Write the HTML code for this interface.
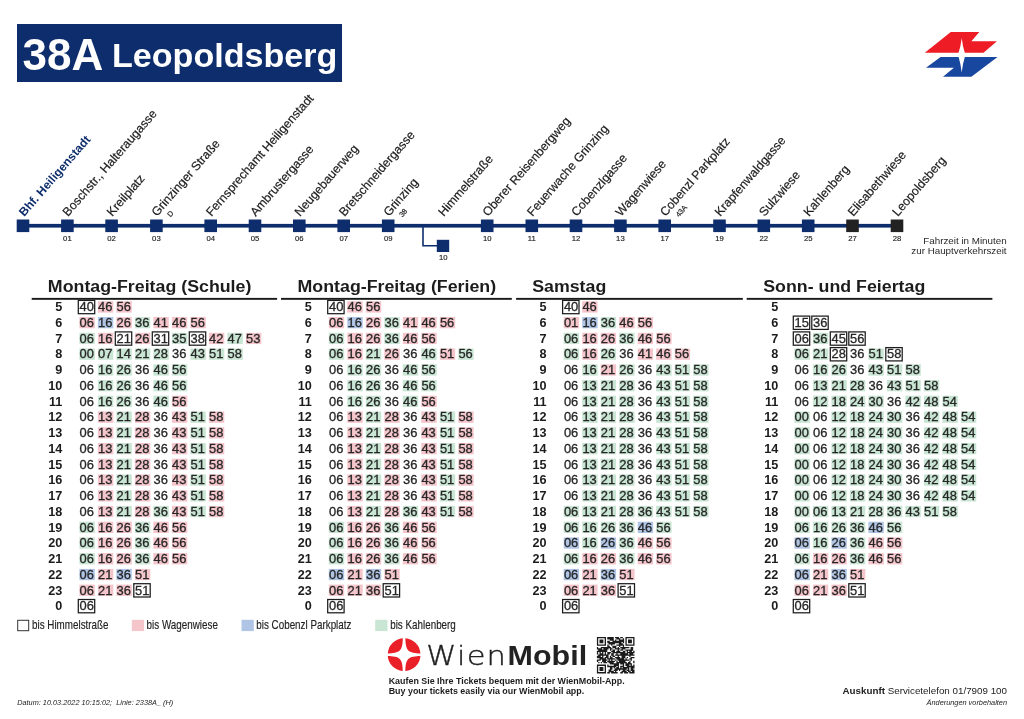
<!DOCTYPE html>
<html lang="de"><head><meta charset="utf-8"><title>38A Leopoldsberg</title>
<style>
html,body{margin:0;padding:0;background:#fff;}
body{width:1024px;height:719px;overflow:hidden;position:relative;font-family:"Liberation Sans",sans-serif;}
svg{position:absolute;left:0;top:0;display:block;}
text{font-family:"Liberation Sans",sans-serif;fill:#333333;}
.b{font-weight:bold;}
.i{font-style:italic;}
.hd{font-weight:bold;font-size:16.7px;fill:#1c1c1c;}
.hr{font-weight:bold;font-size:12px;fill:#1c1c1c;text-anchor:end;}
.m{font-size:12.9px;fill:#262626;stroke:#262626;stroke-width:0.3px;word-spacing:0.57px;}
.st{font-size:12.25px;fill:#1c1c1c;stroke:#1c1c1c;stroke-width:0.2px;}
.tm{font-size:7.7px;fill:#222;stroke:#222;stroke-width:0.15px;text-anchor:middle;}
.sub{font-size:7.4px;fill:#222;stroke:#222;stroke-width:0.2px;}
.lg{font-size:12px;fill:#222;stroke:#222;stroke-width:0.15px;}
</style></head><body>
<svg width="1024" height="719" viewBox="0 0 1024 719">
<rect x="17" y="24" width="325" height="58" fill="#0e2d6d"/>
<text x="22.5" y="69.6" class="b" style="font-size:44px;fill:#fff">38A</text>
<text x="112" y="66.6" class="b" style="font-size:34.1px;fill:#fff">Leopoldsberg</text>
<polygon points="950.8,32.1 979.3,32.1 971.4,41.2 996.9,41.2 983.5,52.7 924.8,52.7" fill="#ee1c25"/>
<polygon points="940.6,56.9 997.5,56.9 971.4,76.7 943,76.7 953.9,67.8 926,67.8" fill="#17479e"/>
<path d="M961.7 37.9 Q962.7 46.5 964.8 52.7 L970.5 54.8 L964.8 56.9 Q962.7 63.5 961.7 72.4 Q960.7 63.5 958.6 56.9 L953 54.8 L958.6 52.7 Q960.7 46.5 961.7 37.9Z" fill="#fff"/>
<rect x="23" y="223.9" width="874" height="3.7" fill="#0e2d6d"/>
<path d="M423 227 V245.8 H438" fill="none" stroke="#0e2d6d" stroke-width="1.6"/>
<rect x="436.8" y="239.8" width="12.4" height="12.2" fill="#0e2d6d"/>
<text x="443.2" y="260.4" class="tm">10</text>
<rect x="16.7" y="219.5" width="12.6" height="12.6" fill="#0e2d6d"/>
<text transform="translate(24.2 217.0) rotate(-49)" class="st b" style="fill:#0e2d6d;stroke:none;font-size:12px">Bhf. Heiligenstadt</text>
<rect x="61.1" y="219.5" width="12.6" height="12.6" fill="#0e2d6d"/>
<text x="67.4" y="240.5" class="tm">01</text>
<text transform="translate(68.1 217.0) rotate(-49)" class="st">Boschstr., Halteraugasse</text>
<rect x="105.3" y="219.5" width="12.6" height="12.6" fill="#0e2d6d"/>
<text x="111.6" y="240.5" class="tm">02</text>
<text transform="translate(112.3 217.0) rotate(-49)" class="st">Kreilplatz</text>
<rect x="150.1" y="219.5" width="12.6" height="12.6" fill="#0e2d6d"/>
<text x="156.4" y="240.5" class="tm">03</text>
<text transform="translate(157.1 217.0) rotate(-49)" class="st">Grinzinger Straße</text>
<text transform="translate(170.6 217.6) rotate(-49)" class="sub">D</text>
<rect x="204.4" y="219.5" width="12.6" height="12.6" fill="#0e2d6d"/>
<text x="210.7" y="240.5" class="tm">04</text>
<text transform="translate(211.4 217.0) rotate(-49)" class="st">Fernsprechamt Heiligenstadt</text>
<rect x="248.7" y="219.5" width="12.6" height="12.6" fill="#0e2d6d"/>
<text x="255.0" y="240.5" class="tm">05</text>
<text transform="translate(255.7 217.0) rotate(-49)" class="st">Ambrustergasse</text>
<rect x="293.0" y="219.5" width="12.6" height="12.6" fill="#0e2d6d"/>
<text x="299.3" y="240.5" class="tm">06</text>
<text transform="translate(300.0 217.0) rotate(-49)" class="st">Neugebauerweg</text>
<rect x="337.4" y="219.5" width="12.6" height="12.6" fill="#0e2d6d"/>
<text x="343.7" y="240.5" class="tm">07</text>
<text transform="translate(344.4 217.0) rotate(-49)" class="st">Bretschneidergasse</text>
<rect x="381.9" y="219.5" width="12.6" height="12.6" fill="#0e2d6d"/>
<text x="388.2" y="240.5" class="tm">09</text>
<text transform="translate(388.9 217.0) rotate(-49)" class="st">Grinzing</text>
<text transform="translate(402.4 217.6) rotate(-49)" class="sub">38</text>
<text transform="translate(443.7 217.0) rotate(-49)" class="st">Himmelstraße</text>
<rect x="480.9" y="219.5" width="12.6" height="12.6" fill="#0e2d6d"/>
<text x="487.2" y="240.5" class="tm">10</text>
<text transform="translate(487.9 217.0) rotate(-49)" class="st">Oberer Reisenbergweg</text>
<rect x="525.5" y="219.5" width="12.6" height="12.6" fill="#0e2d6d"/>
<text x="531.8" y="240.5" class="tm">11</text>
<text transform="translate(532.5 217.0) rotate(-49)" class="st">Feuerwache Grinzing</text>
<rect x="569.7" y="219.5" width="12.6" height="12.6" fill="#0e2d6d"/>
<text x="576.0" y="240.5" class="tm">12</text>
<text transform="translate(576.7 217.0) rotate(-49)" class="st">Cobenzlgasse</text>
<rect x="614.1" y="219.5" width="12.6" height="12.6" fill="#0e2d6d"/>
<text x="620.4" y="240.5" class="tm">13</text>
<text transform="translate(621.1 217.0) rotate(-49)" class="st">Wagenwiese</text>
<rect x="658.4" y="219.5" width="12.6" height="12.6" fill="#0e2d6d"/>
<text x="664.7" y="240.5" class="tm">17</text>
<text transform="translate(665.4 217.0) rotate(-49)" class="st">Cobenzl Parkplatz</text>
<text transform="translate(678.9 217.6) rotate(-49)" class="sub">43A</text>
<rect x="713.2" y="219.5" width="12.6" height="12.6" fill="#0e2d6d"/>
<text x="719.5" y="240.5" class="tm">19</text>
<text transform="translate(720.2 217.0) rotate(-49)" class="st">Krapfenwaldgasse</text>
<rect x="757.5" y="219.5" width="12.6" height="12.6" fill="#0e2d6d"/>
<text x="763.8" y="240.5" class="tm">22</text>
<text transform="translate(764.5 217.0) rotate(-49)" class="st">Sulzwiese</text>
<rect x="801.9" y="219.5" width="12.6" height="12.6" fill="#0e2d6d"/>
<text x="808.2" y="240.5" class="tm">25</text>
<text transform="translate(808.9 217.0) rotate(-49)" class="st">Kahlenberg</text>
<rect x="846.2" y="219.5" width="12.6" height="12.6" fill="#222222"/>
<text x="852.5" y="240.5" class="tm">27</text>
<text transform="translate(853.2 217.0) rotate(-49)" class="st">Elisabethwiese</text>
<rect x="890.7" y="219.5" width="12.6" height="12.6" fill="#222222"/>
<text x="897.0" y="240.5" class="tm">28</text>
<text transform="translate(897.7 217.0) rotate(-49)" class="st">Leopoldsberg</text>
<text x="1006.6" y="243.6" style="font-size:9.8px;text-anchor:end;fill:#2a2a2a">Fahrzeit in Minuten</text>
<text x="1006.6" y="254.0" style="font-size:9.8px;text-anchor:end;fill:#2a2a2a">zur Hauptverkehrszeit</text>
<text transform="translate(47.84 291.6) scale(1.065 1)" class="hd">Montag-Freitag (Schule)</text>
<rect x="31.7" y="297.9" width="245.4" height="1.9" fill="#1a1a1a"/>
<text transform="translate(62.3 311.2) scale(1.055 1)" class="hr">5</text>
<rect x="78.3" y="300.4" width="16.4" height="13.3" fill="#fff" stroke="#1c1c1c" stroke-width="1.25"/>
<rect x="97.9" y="301.3" width="15.4" height="11.3" fill="#f4c5cb"/>
<rect x="116.4" y="301.3" width="15.4" height="11.3" fill="#f4c5cb"/>
<text x="79.6" y="311.2" class="m" xml:space="preserve">40 46 56</text>
<text transform="translate(62.3 326.9) scale(1.055 1)" class="hr">6</text>
<rect x="79.4" y="317.0" width="15.4" height="11.3" fill="#f4c5cb"/>
<rect x="97.9" y="317.0" width="15.4" height="11.3" fill="#b0c5e5"/>
<rect x="116.4" y="317.0" width="15.4" height="11.3" fill="#f4c5cb"/>
<rect x="134.9" y="317.0" width="15.4" height="11.3" fill="#c9e5d3"/>
<rect x="153.4" y="317.0" width="15.4" height="11.3" fill="#f4c5cb"/>
<rect x="171.9" y="317.0" width="15.4" height="11.3" fill="#f4c5cb"/>
<rect x="190.4" y="317.0" width="15.4" height="11.3" fill="#f4c5cb"/>
<text x="79.6" y="326.9" class="m" xml:space="preserve">06 16 26 36 41 46 56</text>
<text transform="translate(62.3 342.7) scale(1.055 1)" class="hr">7</text>
<rect x="79.4" y="332.8" width="15.4" height="11.3" fill="#c9e5d3"/>
<rect x="97.9" y="332.8" width="15.4" height="11.3" fill="#f4c5cb"/>
<rect x="115.3" y="331.9" width="16.4" height="13.3" fill="#fff" stroke="#1c1c1c" stroke-width="1.25"/>
<rect x="134.9" y="332.8" width="15.4" height="11.3" fill="#f4c5cb"/>
<rect x="152.3" y="331.9" width="16.4" height="13.3" fill="#fff" stroke="#1c1c1c" stroke-width="1.25"/>
<rect x="171.9" y="332.8" width="15.4" height="11.3" fill="#c9e5d3"/>
<rect x="189.3" y="331.9" width="16.4" height="13.3" fill="#fff" stroke="#1c1c1c" stroke-width="1.25"/>
<rect x="208.9" y="332.8" width="15.4" height="11.3" fill="#f4c5cb"/>
<rect x="227.4" y="332.8" width="15.4" height="11.3" fill="#c9e5d3"/>
<rect x="245.9" y="332.8" width="15.4" height="11.3" fill="#f4c5cb"/>
<text x="79.6" y="342.7" class="m" xml:space="preserve">06 16 21 26 31 35 38 42 47 53</text>
<text transform="translate(62.3 358.4) scale(1.055 1)" class="hr">8</text>
<rect x="79.4" y="348.5" width="15.4" height="11.3" fill="#c9e5d3"/>
<rect x="97.9" y="348.5" width="15.4" height="11.3" fill="#c9e5d3"/>
<rect x="116.4" y="348.5" width="15.4" height="11.3" fill="#c9e5d3"/>
<rect x="134.9" y="348.5" width="15.4" height="11.3" fill="#c9e5d3"/>
<rect x="153.4" y="348.5" width="15.4" height="11.3" fill="#c9e5d3"/>
<rect x="190.4" y="348.5" width="15.4" height="11.3" fill="#c9e5d3"/>
<rect x="208.9" y="348.5" width="15.4" height="11.3" fill="#c9e5d3"/>
<rect x="227.4" y="348.5" width="15.4" height="11.3" fill="#c9e5d3"/>
<text x="79.6" y="358.4" class="m" xml:space="preserve">00 07 14 21 28 36 43 51 58</text>
<text transform="translate(62.3 374.2) scale(1.055 1)" class="hr">9</text>
<rect x="97.9" y="364.3" width="15.4" height="11.3" fill="#c9e5d3"/>
<rect x="116.4" y="364.3" width="15.4" height="11.3" fill="#c9e5d3"/>
<rect x="153.4" y="364.3" width="15.4" height="11.3" fill="#c9e5d3"/>
<rect x="171.9" y="364.3" width="15.4" height="11.3" fill="#c9e5d3"/>
<text x="79.6" y="374.2" class="m" xml:space="preserve">06 16 26 36 46 56</text>
<text transform="translate(62.3 389.9) scale(1.055 1)" class="hr">10</text>
<rect x="97.9" y="380.0" width="15.4" height="11.3" fill="#c9e5d3"/>
<rect x="116.4" y="380.0" width="15.4" height="11.3" fill="#c9e5d3"/>
<rect x="153.4" y="380.0" width="15.4" height="11.3" fill="#c9e5d3"/>
<rect x="171.9" y="380.0" width="15.4" height="11.3" fill="#c9e5d3"/>
<text x="79.6" y="389.9" class="m" xml:space="preserve">06 16 26 36 46 56</text>
<text transform="translate(62.3 405.6) scale(1.055 1)" class="hr">11</text>
<rect x="97.9" y="395.7" width="15.4" height="11.3" fill="#c9e5d3"/>
<rect x="116.4" y="395.7" width="15.4" height="11.3" fill="#c9e5d3"/>
<rect x="153.4" y="395.7" width="15.4" height="11.3" fill="#c9e5d3"/>
<rect x="171.9" y="395.7" width="15.4" height="11.3" fill="#f4c5cb"/>
<text x="79.6" y="405.6" class="m" xml:space="preserve">06 16 26 36 46 56</text>
<text transform="translate(62.3 421.4) scale(1.055 1)" class="hr">12</text>
<rect x="97.9" y="411.5" width="15.4" height="11.3" fill="#f4c5cb"/>
<rect x="116.4" y="411.5" width="15.4" height="11.3" fill="#c9e5d3"/>
<rect x="134.9" y="411.5" width="15.4" height="11.3" fill="#f4c5cb"/>
<rect x="171.9" y="411.5" width="15.4" height="11.3" fill="#f4c5cb"/>
<rect x="190.4" y="411.5" width="15.4" height="11.3" fill="#c9e5d3"/>
<rect x="208.9" y="411.5" width="15.4" height="11.3" fill="#f4c5cb"/>
<text x="79.6" y="421.4" class="m" xml:space="preserve">06 13 21 28 36 43 51 58</text>
<text transform="translate(62.3 437.1) scale(1.055 1)" class="hr">13</text>
<rect x="97.9" y="427.2" width="15.4" height="11.3" fill="#f4c5cb"/>
<rect x="116.4" y="427.2" width="15.4" height="11.3" fill="#c9e5d3"/>
<rect x="134.9" y="427.2" width="15.4" height="11.3" fill="#f4c5cb"/>
<rect x="171.9" y="427.2" width="15.4" height="11.3" fill="#f4c5cb"/>
<rect x="190.4" y="427.2" width="15.4" height="11.3" fill="#c9e5d3"/>
<rect x="208.9" y="427.2" width="15.4" height="11.3" fill="#f4c5cb"/>
<text x="79.6" y="437.1" class="m" xml:space="preserve">06 13 21 28 36 43 51 58</text>
<text transform="translate(62.3 452.9) scale(1.055 1)" class="hr">14</text>
<rect x="97.9" y="443.0" width="15.4" height="11.3" fill="#f4c5cb"/>
<rect x="116.4" y="443.0" width="15.4" height="11.3" fill="#c9e5d3"/>
<rect x="134.9" y="443.0" width="15.4" height="11.3" fill="#f4c5cb"/>
<rect x="171.9" y="443.0" width="15.4" height="11.3" fill="#f4c5cb"/>
<rect x="190.4" y="443.0" width="15.4" height="11.3" fill="#c9e5d3"/>
<rect x="208.9" y="443.0" width="15.4" height="11.3" fill="#f4c5cb"/>
<text x="79.6" y="452.9" class="m" xml:space="preserve">06 13 21 28 36 43 51 58</text>
<text transform="translate(62.3 468.6) scale(1.055 1)" class="hr">15</text>
<rect x="97.9" y="458.7" width="15.4" height="11.3" fill="#f4c5cb"/>
<rect x="116.4" y="458.7" width="15.4" height="11.3" fill="#c9e5d3"/>
<rect x="134.9" y="458.7" width="15.4" height="11.3" fill="#f4c5cb"/>
<rect x="171.9" y="458.7" width="15.4" height="11.3" fill="#f4c5cb"/>
<rect x="190.4" y="458.7" width="15.4" height="11.3" fill="#c9e5d3"/>
<rect x="208.9" y="458.7" width="15.4" height="11.3" fill="#f4c5cb"/>
<text x="79.6" y="468.6" class="m" xml:space="preserve">06 13 21 28 36 43 51 58</text>
<text transform="translate(62.3 484.3) scale(1.055 1)" class="hr">16</text>
<rect x="97.9" y="474.4" width="15.4" height="11.3" fill="#f4c5cb"/>
<rect x="116.4" y="474.4" width="15.4" height="11.3" fill="#c9e5d3"/>
<rect x="134.9" y="474.4" width="15.4" height="11.3" fill="#f4c5cb"/>
<rect x="171.9" y="474.4" width="15.4" height="11.3" fill="#f4c5cb"/>
<rect x="190.4" y="474.4" width="15.4" height="11.3" fill="#c9e5d3"/>
<rect x="208.9" y="474.4" width="15.4" height="11.3" fill="#f4c5cb"/>
<text x="79.6" y="484.3" class="m" xml:space="preserve">06 13 21 28 36 43 51 58</text>
<text transform="translate(62.3 500.1) scale(1.055 1)" class="hr">17</text>
<rect x="97.9" y="490.2" width="15.4" height="11.3" fill="#f4c5cb"/>
<rect x="116.4" y="490.2" width="15.4" height="11.3" fill="#c9e5d3"/>
<rect x="134.9" y="490.2" width="15.4" height="11.3" fill="#f4c5cb"/>
<rect x="171.9" y="490.2" width="15.4" height="11.3" fill="#f4c5cb"/>
<rect x="190.4" y="490.2" width="15.4" height="11.3" fill="#c9e5d3"/>
<rect x="208.9" y="490.2" width="15.4" height="11.3" fill="#f4c5cb"/>
<text x="79.6" y="500.1" class="m" xml:space="preserve">06 13 21 28 36 43 51 58</text>
<text transform="translate(62.3 515.8) scale(1.055 1)" class="hr">18</text>
<rect x="97.9" y="505.9" width="15.4" height="11.3" fill="#f4c5cb"/>
<rect x="116.4" y="505.9" width="15.4" height="11.3" fill="#c9e5d3"/>
<rect x="134.9" y="505.9" width="15.4" height="11.3" fill="#f4c5cb"/>
<rect x="153.4" y="505.9" width="15.4" height="11.3" fill="#c9e5d3"/>
<rect x="171.9" y="505.9" width="15.4" height="11.3" fill="#f4c5cb"/>
<rect x="190.4" y="505.9" width="15.4" height="11.3" fill="#c9e5d3"/>
<rect x="208.9" y="505.9" width="15.4" height="11.3" fill="#f4c5cb"/>
<text x="79.6" y="515.8" class="m" xml:space="preserve">06 13 21 28 36 43 51 58</text>
<text transform="translate(62.3 531.6) scale(1.055 1)" class="hr">19</text>
<rect x="79.4" y="521.7" width="15.4" height="11.3" fill="#c9e5d3"/>
<rect x="97.9" y="521.7" width="15.4" height="11.3" fill="#f4c5cb"/>
<rect x="116.4" y="521.7" width="15.4" height="11.3" fill="#f4c5cb"/>
<rect x="134.9" y="521.7" width="15.4" height="11.3" fill="#c9e5d3"/>
<rect x="153.4" y="521.7" width="15.4" height="11.3" fill="#f4c5cb"/>
<rect x="171.9" y="521.7" width="15.4" height="11.3" fill="#f4c5cb"/>
<text x="79.6" y="531.6" class="m" xml:space="preserve">06 16 26 36 46 56</text>
<text transform="translate(62.3 547.3) scale(1.055 1)" class="hr">20</text>
<rect x="79.4" y="537.4" width="15.4" height="11.3" fill="#c9e5d3"/>
<rect x="97.9" y="537.4" width="15.4" height="11.3" fill="#f4c5cb"/>
<rect x="116.4" y="537.4" width="15.4" height="11.3" fill="#f4c5cb"/>
<rect x="134.9" y="537.4" width="15.4" height="11.3" fill="#c9e5d3"/>
<rect x="153.4" y="537.4" width="15.4" height="11.3" fill="#f4c5cb"/>
<rect x="171.9" y="537.4" width="15.4" height="11.3" fill="#f4c5cb"/>
<text x="79.6" y="547.3" class="m" xml:space="preserve">06 16 26 36 46 56</text>
<text transform="translate(62.3 563.0) scale(1.055 1)" class="hr">21</text>
<rect x="79.4" y="553.1" width="15.4" height="11.3" fill="#c9e5d3"/>
<rect x="97.9" y="553.1" width="15.4" height="11.3" fill="#f4c5cb"/>
<rect x="116.4" y="553.1" width="15.4" height="11.3" fill="#f4c5cb"/>
<rect x="134.9" y="553.1" width="15.4" height="11.3" fill="#c9e5d3"/>
<rect x="153.4" y="553.1" width="15.4" height="11.3" fill="#f4c5cb"/>
<rect x="171.9" y="553.1" width="15.4" height="11.3" fill="#f4c5cb"/>
<text x="79.6" y="563.0" class="m" xml:space="preserve">06 16 26 36 46 56</text>
<text transform="translate(62.3 578.8) scale(1.055 1)" class="hr">22</text>
<rect x="79.4" y="568.9" width="15.4" height="11.3" fill="#b0c5e5"/>
<rect x="97.9" y="568.9" width="15.4" height="11.3" fill="#f4c5cb"/>
<rect x="116.4" y="568.9" width="15.4" height="11.3" fill="#b0c5e5"/>
<rect x="134.9" y="568.9" width="15.4" height="11.3" fill="#f4c5cb"/>
<text x="79.6" y="578.8" class="m" xml:space="preserve">06 21 36 51</text>
<text transform="translate(62.3 594.5) scale(1.055 1)" class="hr">23</text>
<rect x="79.4" y="584.6" width="15.4" height="11.3" fill="#f4c5cb"/>
<rect x="97.9" y="584.6" width="15.4" height="11.3" fill="#f4c5cb"/>
<rect x="116.4" y="584.6" width="15.4" height="11.3" fill="#f4c5cb"/>
<rect x="133.8" y="583.7" width="16.4" height="13.3" fill="#fff" stroke="#1c1c1c" stroke-width="1.25"/>
<text x="79.6" y="594.5" class="m" xml:space="preserve">06 21 36 51</text>
<text transform="translate(62.3 610.3) scale(1.055 1)" class="hr">0</text>
<rect x="78.3" y="599.5" width="16.4" height="13.3" fill="#fff" stroke="#1c1c1c" stroke-width="1.25"/>
<text x="79.6" y="610.3" class="m" xml:space="preserve">06</text>
<text transform="translate(297.54 291.6) scale(1.065 1)" class="hd">Montag-Freitag (Ferien)</text>
<rect x="281.0" y="297.9" width="230.8" height="1.9" fill="#1a1a1a"/>
<text transform="translate(311.8 311.2) scale(1.055 1)" class="hr">5</text>
<rect x="327.7" y="300.4" width="16.4" height="13.3" fill="#fff" stroke="#1c1c1c" stroke-width="1.25"/>
<rect x="347.3" y="301.3" width="15.4" height="11.3" fill="#f4c5cb"/>
<rect x="365.8" y="301.3" width="15.4" height="11.3" fill="#f4c5cb"/>
<text x="329.0" y="311.2" class="m" xml:space="preserve">40 46 56</text>
<text transform="translate(311.8 326.9) scale(1.055 1)" class="hr">6</text>
<rect x="328.8" y="317.0" width="15.4" height="11.3" fill="#f4c5cb"/>
<rect x="347.3" y="317.0" width="15.4" height="11.3" fill="#b0c5e5"/>
<rect x="365.8" y="317.0" width="15.4" height="11.3" fill="#f4c5cb"/>
<rect x="384.3" y="317.0" width="15.4" height="11.3" fill="#c9e5d3"/>
<rect x="402.8" y="317.0" width="15.4" height="11.3" fill="#f4c5cb"/>
<rect x="421.3" y="317.0" width="15.4" height="11.3" fill="#f4c5cb"/>
<rect x="439.8" y="317.0" width="15.4" height="11.3" fill="#f4c5cb"/>
<text x="329.0" y="326.9" class="m" xml:space="preserve">06 16 26 36 41 46 56</text>
<text transform="translate(311.8 342.7) scale(1.055 1)" class="hr">7</text>
<rect x="328.8" y="332.8" width="15.4" height="11.3" fill="#c9e5d3"/>
<rect x="347.3" y="332.8" width="15.4" height="11.3" fill="#f4c5cb"/>
<rect x="365.8" y="332.8" width="15.4" height="11.3" fill="#f4c5cb"/>
<rect x="384.3" y="332.8" width="15.4" height="11.3" fill="#c9e5d3"/>
<rect x="402.8" y="332.8" width="15.4" height="11.3" fill="#f4c5cb"/>
<rect x="421.3" y="332.8" width="15.4" height="11.3" fill="#f4c5cb"/>
<text x="329.0" y="342.7" class="m" xml:space="preserve">06 16 26 36 46 56</text>
<text transform="translate(311.8 358.4) scale(1.055 1)" class="hr">8</text>
<rect x="328.8" y="348.5" width="15.4" height="11.3" fill="#c9e5d3"/>
<rect x="347.3" y="348.5" width="15.4" height="11.3" fill="#f4c5cb"/>
<rect x="365.8" y="348.5" width="15.4" height="11.3" fill="#c9e5d3"/>
<rect x="384.3" y="348.5" width="15.4" height="11.3" fill="#f4c5cb"/>
<rect x="421.3" y="348.5" width="15.4" height="11.3" fill="#c9e5d3"/>
<rect x="439.8" y="348.5" width="15.4" height="11.3" fill="#f4c5cb"/>
<rect x="458.3" y="348.5" width="15.4" height="11.3" fill="#c9e5d3"/>
<text x="329.0" y="358.4" class="m" xml:space="preserve">06 16 21 26 36 46 51 56</text>
<text transform="translate(311.8 374.2) scale(1.055 1)" class="hr">9</text>
<rect x="347.3" y="364.3" width="15.4" height="11.3" fill="#c9e5d3"/>
<rect x="365.8" y="364.3" width="15.4" height="11.3" fill="#c9e5d3"/>
<rect x="402.8" y="364.3" width="15.4" height="11.3" fill="#c9e5d3"/>
<rect x="421.3" y="364.3" width="15.4" height="11.3" fill="#c9e5d3"/>
<text x="329.0" y="374.2" class="m" xml:space="preserve">06 16 26 36 46 56</text>
<text transform="translate(311.8 389.9) scale(1.055 1)" class="hr">10</text>
<rect x="347.3" y="380.0" width="15.4" height="11.3" fill="#c9e5d3"/>
<rect x="365.8" y="380.0" width="15.4" height="11.3" fill="#c9e5d3"/>
<rect x="402.8" y="380.0" width="15.4" height="11.3" fill="#c9e5d3"/>
<rect x="421.3" y="380.0" width="15.4" height="11.3" fill="#c9e5d3"/>
<text x="329.0" y="389.9" class="m" xml:space="preserve">06 16 26 36 46 56</text>
<text transform="translate(311.8 405.6) scale(1.055 1)" class="hr">11</text>
<rect x="347.3" y="395.7" width="15.4" height="11.3" fill="#c9e5d3"/>
<rect x="365.8" y="395.7" width="15.4" height="11.3" fill="#c9e5d3"/>
<rect x="402.8" y="395.7" width="15.4" height="11.3" fill="#c9e5d3"/>
<rect x="421.3" y="395.7" width="15.4" height="11.3" fill="#f4c5cb"/>
<text x="329.0" y="405.6" class="m" xml:space="preserve">06 16 26 36 46 56</text>
<text transform="translate(311.8 421.4) scale(1.055 1)" class="hr">12</text>
<rect x="347.3" y="411.5" width="15.4" height="11.3" fill="#f4c5cb"/>
<rect x="365.8" y="411.5" width="15.4" height="11.3" fill="#c9e5d3"/>
<rect x="384.3" y="411.5" width="15.4" height="11.3" fill="#f4c5cb"/>
<rect x="421.3" y="411.5" width="15.4" height="11.3" fill="#f4c5cb"/>
<rect x="439.8" y="411.5" width="15.4" height="11.3" fill="#c9e5d3"/>
<rect x="458.3" y="411.5" width="15.4" height="11.3" fill="#f4c5cb"/>
<text x="329.0" y="421.4" class="m" xml:space="preserve">06 13 21 28 36 43 51 58</text>
<text transform="translate(311.8 437.1) scale(1.055 1)" class="hr">13</text>
<rect x="347.3" y="427.2" width="15.4" height="11.3" fill="#f4c5cb"/>
<rect x="365.8" y="427.2" width="15.4" height="11.3" fill="#c9e5d3"/>
<rect x="384.3" y="427.2" width="15.4" height="11.3" fill="#f4c5cb"/>
<rect x="421.3" y="427.2" width="15.4" height="11.3" fill="#f4c5cb"/>
<rect x="439.8" y="427.2" width="15.4" height="11.3" fill="#c9e5d3"/>
<rect x="458.3" y="427.2" width="15.4" height="11.3" fill="#f4c5cb"/>
<text x="329.0" y="437.1" class="m" xml:space="preserve">06 13 21 28 36 43 51 58</text>
<text transform="translate(311.8 452.9) scale(1.055 1)" class="hr">14</text>
<rect x="347.3" y="443.0" width="15.4" height="11.3" fill="#f4c5cb"/>
<rect x="365.8" y="443.0" width="15.4" height="11.3" fill="#c9e5d3"/>
<rect x="384.3" y="443.0" width="15.4" height="11.3" fill="#f4c5cb"/>
<rect x="421.3" y="443.0" width="15.4" height="11.3" fill="#f4c5cb"/>
<rect x="439.8" y="443.0" width="15.4" height="11.3" fill="#c9e5d3"/>
<rect x="458.3" y="443.0" width="15.4" height="11.3" fill="#f4c5cb"/>
<text x="329.0" y="452.9" class="m" xml:space="preserve">06 13 21 28 36 43 51 58</text>
<text transform="translate(311.8 468.6) scale(1.055 1)" class="hr">15</text>
<rect x="347.3" y="458.7" width="15.4" height="11.3" fill="#f4c5cb"/>
<rect x="365.8" y="458.7" width="15.4" height="11.3" fill="#c9e5d3"/>
<rect x="384.3" y="458.7" width="15.4" height="11.3" fill="#f4c5cb"/>
<rect x="421.3" y="458.7" width="15.4" height="11.3" fill="#f4c5cb"/>
<rect x="439.8" y="458.7" width="15.4" height="11.3" fill="#c9e5d3"/>
<rect x="458.3" y="458.7" width="15.4" height="11.3" fill="#f4c5cb"/>
<text x="329.0" y="468.6" class="m" xml:space="preserve">06 13 21 28 36 43 51 58</text>
<text transform="translate(311.8 484.3) scale(1.055 1)" class="hr">16</text>
<rect x="347.3" y="474.4" width="15.4" height="11.3" fill="#f4c5cb"/>
<rect x="365.8" y="474.4" width="15.4" height="11.3" fill="#c9e5d3"/>
<rect x="384.3" y="474.4" width="15.4" height="11.3" fill="#f4c5cb"/>
<rect x="421.3" y="474.4" width="15.4" height="11.3" fill="#f4c5cb"/>
<rect x="439.8" y="474.4" width="15.4" height="11.3" fill="#c9e5d3"/>
<rect x="458.3" y="474.4" width="15.4" height="11.3" fill="#f4c5cb"/>
<text x="329.0" y="484.3" class="m" xml:space="preserve">06 13 21 28 36 43 51 58</text>
<text transform="translate(311.8 500.1) scale(1.055 1)" class="hr">17</text>
<rect x="347.3" y="490.2" width="15.4" height="11.3" fill="#f4c5cb"/>
<rect x="365.8" y="490.2" width="15.4" height="11.3" fill="#c9e5d3"/>
<rect x="384.3" y="490.2" width="15.4" height="11.3" fill="#f4c5cb"/>
<rect x="421.3" y="490.2" width="15.4" height="11.3" fill="#f4c5cb"/>
<rect x="439.8" y="490.2" width="15.4" height="11.3" fill="#c9e5d3"/>
<rect x="458.3" y="490.2" width="15.4" height="11.3" fill="#f4c5cb"/>
<text x="329.0" y="500.1" class="m" xml:space="preserve">06 13 21 28 36 43 51 58</text>
<text transform="translate(311.8 515.8) scale(1.055 1)" class="hr">18</text>
<rect x="347.3" y="505.9" width="15.4" height="11.3" fill="#f4c5cb"/>
<rect x="365.8" y="505.9" width="15.4" height="11.3" fill="#c9e5d3"/>
<rect x="384.3" y="505.9" width="15.4" height="11.3" fill="#f4c5cb"/>
<rect x="402.8" y="505.9" width="15.4" height="11.3" fill="#c9e5d3"/>
<rect x="421.3" y="505.9" width="15.4" height="11.3" fill="#f4c5cb"/>
<rect x="439.8" y="505.9" width="15.4" height="11.3" fill="#c9e5d3"/>
<rect x="458.3" y="505.9" width="15.4" height="11.3" fill="#f4c5cb"/>
<text x="329.0" y="515.8" class="m" xml:space="preserve">06 13 21 28 36 43 51 58</text>
<text transform="translate(311.8 531.6) scale(1.055 1)" class="hr">19</text>
<rect x="328.8" y="521.7" width="15.4" height="11.3" fill="#c9e5d3"/>
<rect x="347.3" y="521.7" width="15.4" height="11.3" fill="#f4c5cb"/>
<rect x="365.8" y="521.7" width="15.4" height="11.3" fill="#f4c5cb"/>
<rect x="384.3" y="521.7" width="15.4" height="11.3" fill="#c9e5d3"/>
<rect x="402.8" y="521.7" width="15.4" height="11.3" fill="#f4c5cb"/>
<rect x="421.3" y="521.7" width="15.4" height="11.3" fill="#f4c5cb"/>
<text x="329.0" y="531.6" class="m" xml:space="preserve">06 16 26 36 46 56</text>
<text transform="translate(311.8 547.3) scale(1.055 1)" class="hr">20</text>
<rect x="328.8" y="537.4" width="15.4" height="11.3" fill="#c9e5d3"/>
<rect x="347.3" y="537.4" width="15.4" height="11.3" fill="#f4c5cb"/>
<rect x="365.8" y="537.4" width="15.4" height="11.3" fill="#f4c5cb"/>
<rect x="384.3" y="537.4" width="15.4" height="11.3" fill="#c9e5d3"/>
<rect x="402.8" y="537.4" width="15.4" height="11.3" fill="#f4c5cb"/>
<rect x="421.3" y="537.4" width="15.4" height="11.3" fill="#f4c5cb"/>
<text x="329.0" y="547.3" class="m" xml:space="preserve">06 16 26 36 46 56</text>
<text transform="translate(311.8 563.0) scale(1.055 1)" class="hr">21</text>
<rect x="328.8" y="553.1" width="15.4" height="11.3" fill="#c9e5d3"/>
<rect x="347.3" y="553.1" width="15.4" height="11.3" fill="#f4c5cb"/>
<rect x="365.8" y="553.1" width="15.4" height="11.3" fill="#f4c5cb"/>
<rect x="384.3" y="553.1" width="15.4" height="11.3" fill="#c9e5d3"/>
<rect x="402.8" y="553.1" width="15.4" height="11.3" fill="#f4c5cb"/>
<rect x="421.3" y="553.1" width="15.4" height="11.3" fill="#f4c5cb"/>
<text x="329.0" y="563.0" class="m" xml:space="preserve">06 16 26 36 46 56</text>
<text transform="translate(311.8 578.8) scale(1.055 1)" class="hr">22</text>
<rect x="328.8" y="568.9" width="15.4" height="11.3" fill="#b0c5e5"/>
<rect x="347.3" y="568.9" width="15.4" height="11.3" fill="#f4c5cb"/>
<rect x="365.8" y="568.9" width="15.4" height="11.3" fill="#b0c5e5"/>
<rect x="384.3" y="568.9" width="15.4" height="11.3" fill="#f4c5cb"/>
<text x="329.0" y="578.8" class="m" xml:space="preserve">06 21 36 51</text>
<text transform="translate(311.8 594.5) scale(1.055 1)" class="hr">23</text>
<rect x="328.8" y="584.6" width="15.4" height="11.3" fill="#f4c5cb"/>
<rect x="347.3" y="584.6" width="15.4" height="11.3" fill="#f4c5cb"/>
<rect x="365.8" y="584.6" width="15.4" height="11.3" fill="#f4c5cb"/>
<rect x="383.2" y="583.7" width="16.4" height="13.3" fill="#fff" stroke="#1c1c1c" stroke-width="1.25"/>
<text x="329.0" y="594.5" class="m" xml:space="preserve">06 21 36 51</text>
<text transform="translate(311.8 610.3) scale(1.055 1)" class="hr">0</text>
<rect x="327.7" y="599.5" width="16.4" height="13.3" fill="#fff" stroke="#1c1c1c" stroke-width="1.25"/>
<text x="329.0" y="610.3" class="m" xml:space="preserve">06</text>
<text transform="translate(532.13 291.6) scale(1.065 1)" class="hd">Samstag</text>
<rect x="516.1" y="297.9" width="226.7" height="1.9" fill="#1a1a1a"/>
<text transform="translate(546.6 311.2) scale(1.055 1)" class="hr">5</text>
<rect x="562.6" y="300.4" width="16.4" height="13.3" fill="#fff" stroke="#1c1c1c" stroke-width="1.25"/>
<rect x="582.2" y="301.3" width="15.4" height="11.3" fill="#f4c5cb"/>
<text x="563.9" y="311.2" class="m" xml:space="preserve">40 46</text>
<text transform="translate(546.6 326.9) scale(1.055 1)" class="hr">6</text>
<rect x="563.7" y="317.0" width="15.4" height="11.3" fill="#f4c5cb"/>
<rect x="582.2" y="317.0" width="15.4" height="11.3" fill="#b0c5e5"/>
<rect x="600.7" y="317.0" width="15.4" height="11.3" fill="#c9e5d3"/>
<rect x="619.2" y="317.0" width="15.4" height="11.3" fill="#f4c5cb"/>
<rect x="637.7" y="317.0" width="15.4" height="11.3" fill="#f4c5cb"/>
<text x="563.9" y="326.9" class="m" xml:space="preserve">01 16 36 46 56</text>
<text transform="translate(546.6 342.7) scale(1.055 1)" class="hr">7</text>
<rect x="563.7" y="332.8" width="15.4" height="11.3" fill="#c9e5d3"/>
<rect x="582.2" y="332.8" width="15.4" height="11.3" fill="#f4c5cb"/>
<rect x="600.7" y="332.8" width="15.4" height="11.3" fill="#f4c5cb"/>
<rect x="619.2" y="332.8" width="15.4" height="11.3" fill="#c9e5d3"/>
<rect x="637.7" y="332.8" width="15.4" height="11.3" fill="#f4c5cb"/>
<rect x="656.2" y="332.8" width="15.4" height="11.3" fill="#f4c5cb"/>
<text x="563.9" y="342.7" class="m" xml:space="preserve">06 16 26 36 46 56</text>
<text transform="translate(546.6 358.4) scale(1.055 1)" class="hr">8</text>
<rect x="563.7" y="348.5" width="15.4" height="11.3" fill="#c9e5d3"/>
<rect x="582.2" y="348.5" width="15.4" height="11.3" fill="#f4c5cb"/>
<rect x="600.7" y="348.5" width="15.4" height="11.3" fill="#c9e5d3"/>
<rect x="637.7" y="348.5" width="15.4" height="11.3" fill="#f4c5cb"/>
<rect x="656.2" y="348.5" width="15.4" height="11.3" fill="#f4c5cb"/>
<rect x="674.7" y="348.5" width="15.4" height="11.3" fill="#f4c5cb"/>
<text x="563.9" y="358.4" class="m" xml:space="preserve">06 16 26 36 41 46 56</text>
<text transform="translate(546.6 374.2) scale(1.055 1)" class="hr">9</text>
<rect x="582.2" y="364.3" width="15.4" height="11.3" fill="#c9e5d3"/>
<rect x="600.7" y="364.3" width="15.4" height="11.3" fill="#f4c5cb"/>
<rect x="619.2" y="364.3" width="15.4" height="11.3" fill="#c9e5d3"/>
<rect x="656.2" y="364.3" width="15.4" height="11.3" fill="#c9e5d3"/>
<rect x="674.7" y="364.3" width="15.4" height="11.3" fill="#c9e5d3"/>
<rect x="693.2" y="364.3" width="15.4" height="11.3" fill="#c9e5d3"/>
<text x="563.9" y="374.2" class="m" xml:space="preserve">06 16 21 26 36 43 51 58</text>
<text transform="translate(546.6 389.9) scale(1.055 1)" class="hr">10</text>
<rect x="582.2" y="380.0" width="15.4" height="11.3" fill="#c9e5d3"/>
<rect x="600.7" y="380.0" width="15.4" height="11.3" fill="#c9e5d3"/>
<rect x="619.2" y="380.0" width="15.4" height="11.3" fill="#c9e5d3"/>
<rect x="656.2" y="380.0" width="15.4" height="11.3" fill="#c9e5d3"/>
<rect x="674.7" y="380.0" width="15.4" height="11.3" fill="#c9e5d3"/>
<rect x="693.2" y="380.0" width="15.4" height="11.3" fill="#c9e5d3"/>
<text x="563.9" y="389.9" class="m" xml:space="preserve">06 13 21 28 36 43 51 58</text>
<text transform="translate(546.6 405.6) scale(1.055 1)" class="hr">11</text>
<rect x="582.2" y="395.7" width="15.4" height="11.3" fill="#c9e5d3"/>
<rect x="600.7" y="395.7" width="15.4" height="11.3" fill="#c9e5d3"/>
<rect x="619.2" y="395.7" width="15.4" height="11.3" fill="#c9e5d3"/>
<rect x="656.2" y="395.7" width="15.4" height="11.3" fill="#c9e5d3"/>
<rect x="674.7" y="395.7" width="15.4" height="11.3" fill="#c9e5d3"/>
<rect x="693.2" y="395.7" width="15.4" height="11.3" fill="#c9e5d3"/>
<text x="563.9" y="405.6" class="m" xml:space="preserve">06 13 21 28 36 43 51 58</text>
<text transform="translate(546.6 421.4) scale(1.055 1)" class="hr">12</text>
<rect x="582.2" y="411.5" width="15.4" height="11.3" fill="#c9e5d3"/>
<rect x="600.7" y="411.5" width="15.4" height="11.3" fill="#c9e5d3"/>
<rect x="619.2" y="411.5" width="15.4" height="11.3" fill="#c9e5d3"/>
<rect x="656.2" y="411.5" width="15.4" height="11.3" fill="#c9e5d3"/>
<rect x="674.7" y="411.5" width="15.4" height="11.3" fill="#c9e5d3"/>
<rect x="693.2" y="411.5" width="15.4" height="11.3" fill="#c9e5d3"/>
<text x="563.9" y="421.4" class="m" xml:space="preserve">06 13 21 28 36 43 51 58</text>
<text transform="translate(546.6 437.1) scale(1.055 1)" class="hr">13</text>
<rect x="582.2" y="427.2" width="15.4" height="11.3" fill="#c9e5d3"/>
<rect x="600.7" y="427.2" width="15.4" height="11.3" fill="#c9e5d3"/>
<rect x="619.2" y="427.2" width="15.4" height="11.3" fill="#c9e5d3"/>
<rect x="656.2" y="427.2" width="15.4" height="11.3" fill="#c9e5d3"/>
<rect x="674.7" y="427.2" width="15.4" height="11.3" fill="#c9e5d3"/>
<rect x="693.2" y="427.2" width="15.4" height="11.3" fill="#c9e5d3"/>
<text x="563.9" y="437.1" class="m" xml:space="preserve">06 13 21 28 36 43 51 58</text>
<text transform="translate(546.6 452.9) scale(1.055 1)" class="hr">14</text>
<rect x="582.2" y="443.0" width="15.4" height="11.3" fill="#c9e5d3"/>
<rect x="600.7" y="443.0" width="15.4" height="11.3" fill="#c9e5d3"/>
<rect x="619.2" y="443.0" width="15.4" height="11.3" fill="#c9e5d3"/>
<rect x="656.2" y="443.0" width="15.4" height="11.3" fill="#c9e5d3"/>
<rect x="674.7" y="443.0" width="15.4" height="11.3" fill="#c9e5d3"/>
<rect x="693.2" y="443.0" width="15.4" height="11.3" fill="#c9e5d3"/>
<text x="563.9" y="452.9" class="m" xml:space="preserve">06 13 21 28 36 43 51 58</text>
<text transform="translate(546.6 468.6) scale(1.055 1)" class="hr">15</text>
<rect x="582.2" y="458.7" width="15.4" height="11.3" fill="#c9e5d3"/>
<rect x="600.7" y="458.7" width="15.4" height="11.3" fill="#c9e5d3"/>
<rect x="619.2" y="458.7" width="15.4" height="11.3" fill="#c9e5d3"/>
<rect x="656.2" y="458.7" width="15.4" height="11.3" fill="#c9e5d3"/>
<rect x="674.7" y="458.7" width="15.4" height="11.3" fill="#c9e5d3"/>
<rect x="693.2" y="458.7" width="15.4" height="11.3" fill="#c9e5d3"/>
<text x="563.9" y="468.6" class="m" xml:space="preserve">06 13 21 28 36 43 51 58</text>
<text transform="translate(546.6 484.3) scale(1.055 1)" class="hr">16</text>
<rect x="582.2" y="474.4" width="15.4" height="11.3" fill="#c9e5d3"/>
<rect x="600.7" y="474.4" width="15.4" height="11.3" fill="#c9e5d3"/>
<rect x="619.2" y="474.4" width="15.4" height="11.3" fill="#c9e5d3"/>
<rect x="656.2" y="474.4" width="15.4" height="11.3" fill="#c9e5d3"/>
<rect x="674.7" y="474.4" width="15.4" height="11.3" fill="#c9e5d3"/>
<rect x="693.2" y="474.4" width="15.4" height="11.3" fill="#c9e5d3"/>
<text x="563.9" y="484.3" class="m" xml:space="preserve">06 13 21 28 36 43 51 58</text>
<text transform="translate(546.6 500.1) scale(1.055 1)" class="hr">17</text>
<rect x="582.2" y="490.2" width="15.4" height="11.3" fill="#c9e5d3"/>
<rect x="600.7" y="490.2" width="15.4" height="11.3" fill="#c9e5d3"/>
<rect x="619.2" y="490.2" width="15.4" height="11.3" fill="#c9e5d3"/>
<rect x="656.2" y="490.2" width="15.4" height="11.3" fill="#c9e5d3"/>
<rect x="674.7" y="490.2" width="15.4" height="11.3" fill="#c9e5d3"/>
<rect x="693.2" y="490.2" width="15.4" height="11.3" fill="#c9e5d3"/>
<text x="563.9" y="500.1" class="m" xml:space="preserve">06 13 21 28 36 43 51 58</text>
<text transform="translate(546.6 515.8) scale(1.055 1)" class="hr">18</text>
<rect x="563.7" y="505.9" width="15.4" height="11.3" fill="#c9e5d3"/>
<rect x="582.2" y="505.9" width="15.4" height="11.3" fill="#c9e5d3"/>
<rect x="600.7" y="505.9" width="15.4" height="11.3" fill="#c9e5d3"/>
<rect x="619.2" y="505.9" width="15.4" height="11.3" fill="#c9e5d3"/>
<rect x="637.7" y="505.9" width="15.4" height="11.3" fill="#c9e5d3"/>
<rect x="656.2" y="505.9" width="15.4" height="11.3" fill="#c9e5d3"/>
<rect x="674.7" y="505.9" width="15.4" height="11.3" fill="#c9e5d3"/>
<rect x="693.2" y="505.9" width="15.4" height="11.3" fill="#c9e5d3"/>
<text x="563.9" y="515.8" class="m" xml:space="preserve">06 13 21 28 36 43 51 58</text>
<text transform="translate(546.6 531.6) scale(1.055 1)" class="hr">19</text>
<rect x="563.7" y="521.7" width="15.4" height="11.3" fill="#c9e5d3"/>
<rect x="582.2" y="521.7" width="15.4" height="11.3" fill="#c9e5d3"/>
<rect x="600.7" y="521.7" width="15.4" height="11.3" fill="#c9e5d3"/>
<rect x="619.2" y="521.7" width="15.4" height="11.3" fill="#c9e5d3"/>
<rect x="637.7" y="521.7" width="15.4" height="11.3" fill="#b0c5e5"/>
<rect x="656.2" y="521.7" width="15.4" height="11.3" fill="#c9e5d3"/>
<text x="563.9" y="531.6" class="m" xml:space="preserve">06 16 26 36 46 56</text>
<text transform="translate(546.6 547.3) scale(1.055 1)" class="hr">20</text>
<rect x="563.7" y="537.4" width="15.4" height="11.3" fill="#b0c5e5"/>
<rect x="582.2" y="537.4" width="15.4" height="11.3" fill="#c9e5d3"/>
<rect x="600.7" y="537.4" width="15.4" height="11.3" fill="#b0c5e5"/>
<rect x="619.2" y="537.4" width="15.4" height="11.3" fill="#c9e5d3"/>
<rect x="637.7" y="537.4" width="15.4" height="11.3" fill="#f4c5cb"/>
<rect x="656.2" y="537.4" width="15.4" height="11.3" fill="#f4c5cb"/>
<text x="563.9" y="547.3" class="m" xml:space="preserve">06 16 26 36 46 56</text>
<text transform="translate(546.6 563.0) scale(1.055 1)" class="hr">21</text>
<rect x="563.7" y="553.1" width="15.4" height="11.3" fill="#c9e5d3"/>
<rect x="582.2" y="553.1" width="15.4" height="11.3" fill="#f4c5cb"/>
<rect x="600.7" y="553.1" width="15.4" height="11.3" fill="#f4c5cb"/>
<rect x="619.2" y="553.1" width="15.4" height="11.3" fill="#c9e5d3"/>
<rect x="637.7" y="553.1" width="15.4" height="11.3" fill="#f4c5cb"/>
<rect x="656.2" y="553.1" width="15.4" height="11.3" fill="#f4c5cb"/>
<text x="563.9" y="563.0" class="m" xml:space="preserve">06 16 26 36 46 56</text>
<text transform="translate(546.6 578.8) scale(1.055 1)" class="hr">22</text>
<rect x="563.7" y="568.9" width="15.4" height="11.3" fill="#b0c5e5"/>
<rect x="582.2" y="568.9" width="15.4" height="11.3" fill="#f4c5cb"/>
<rect x="600.7" y="568.9" width="15.4" height="11.3" fill="#b0c5e5"/>
<rect x="619.2" y="568.9" width="15.4" height="11.3" fill="#f4c5cb"/>
<text x="563.9" y="578.8" class="m" xml:space="preserve">06 21 36 51</text>
<text transform="translate(546.6 594.5) scale(1.055 1)" class="hr">23</text>
<rect x="563.7" y="584.6" width="15.4" height="11.3" fill="#f4c5cb"/>
<rect x="582.2" y="584.6" width="15.4" height="11.3" fill="#f4c5cb"/>
<rect x="600.7" y="584.6" width="15.4" height="11.3" fill="#f4c5cb"/>
<rect x="618.1" y="583.7" width="16.4" height="13.3" fill="#fff" stroke="#1c1c1c" stroke-width="1.25"/>
<text x="563.9" y="594.5" class="m" xml:space="preserve">06 21 36 51</text>
<text transform="translate(546.6 610.3) scale(1.055 1)" class="hr">0</text>
<rect x="562.6" y="599.5" width="16.4" height="13.3" fill="#fff" stroke="#1c1c1c" stroke-width="1.25"/>
<text x="563.9" y="610.3" class="m" xml:space="preserve">06</text>
<text transform="translate(763.23 291.6) scale(1.065 1)" class="hd">Sonn- und Feiertag</text>
<rect x="746.7" y="297.9" width="245.7" height="1.9" fill="#1a1a1a"/>
<text transform="translate(778.3 311.2) scale(1.055 1)" class="hr">5</text>
<text transform="translate(778.3 326.9) scale(1.055 1)" class="hr">6</text>
<rect x="793.3" y="316.1" width="16.4" height="13.3" fill="#fff" stroke="#1c1c1c" stroke-width="1.25"/>
<rect x="811.8" y="316.1" width="16.4" height="13.3" fill="#fff" stroke="#1c1c1c" stroke-width="1.25"/>
<text x="794.6" y="326.9" class="m" xml:space="preserve">15 36</text>
<text transform="translate(778.3 342.7) scale(1.055 1)" class="hr">7</text>
<rect x="793.3" y="331.9" width="16.4" height="13.3" fill="#fff" stroke="#1c1c1c" stroke-width="1.25"/>
<rect x="812.9" y="332.8" width="15.4" height="11.3" fill="#c9e5d3"/>
<rect x="830.3" y="331.9" width="16.4" height="13.3" fill="#fff" stroke="#1c1c1c" stroke-width="1.25"/>
<rect x="848.8" y="331.9" width="16.4" height="13.3" fill="#fff" stroke="#1c1c1c" stroke-width="1.25"/>
<text x="794.6" y="342.7" class="m" xml:space="preserve">06 36 45 56</text>
<text transform="translate(778.3 358.4) scale(1.055 1)" class="hr">8</text>
<rect x="794.4" y="348.5" width="15.4" height="11.3" fill="#c9e5d3"/>
<rect x="812.9" y="348.5" width="15.4" height="11.3" fill="#c9e5d3"/>
<rect x="830.3" y="347.6" width="16.4" height="13.3" fill="#fff" stroke="#1c1c1c" stroke-width="1.25"/>
<rect x="868.4" y="348.5" width="15.4" height="11.3" fill="#c9e5d3"/>
<rect x="885.8" y="347.6" width="16.4" height="13.3" fill="#fff" stroke="#1c1c1c" stroke-width="1.25"/>
<text x="794.6" y="358.4" class="m" xml:space="preserve">06 21 28 36 51 58</text>
<text transform="translate(778.3 374.2) scale(1.055 1)" class="hr">9</text>
<rect x="812.9" y="364.3" width="15.4" height="11.3" fill="#c9e5d3"/>
<rect x="831.4" y="364.3" width="15.4" height="11.3" fill="#c9e5d3"/>
<rect x="868.4" y="364.3" width="15.4" height="11.3" fill="#c9e5d3"/>
<rect x="886.9" y="364.3" width="15.4" height="11.3" fill="#c9e5d3"/>
<rect x="905.4" y="364.3" width="15.4" height="11.3" fill="#c9e5d3"/>
<text x="794.6" y="374.2" class="m" xml:space="preserve">06 16 26 36 43 51 58</text>
<text transform="translate(778.3 389.9) scale(1.055 1)" class="hr">10</text>
<rect x="812.9" y="380.0" width="15.4" height="11.3" fill="#c9e5d3"/>
<rect x="831.4" y="380.0" width="15.4" height="11.3" fill="#c9e5d3"/>
<rect x="849.9" y="380.0" width="15.4" height="11.3" fill="#c9e5d3"/>
<rect x="886.9" y="380.0" width="15.4" height="11.3" fill="#c9e5d3"/>
<rect x="905.4" y="380.0" width="15.4" height="11.3" fill="#c9e5d3"/>
<rect x="923.9" y="380.0" width="15.4" height="11.3" fill="#c9e5d3"/>
<text x="794.6" y="389.9" class="m" xml:space="preserve">06 13 21 28 36 43 51 58</text>
<text transform="translate(778.3 405.6) scale(1.055 1)" class="hr">11</text>
<rect x="812.9" y="395.7" width="15.4" height="11.3" fill="#c9e5d3"/>
<rect x="831.4" y="395.7" width="15.4" height="11.3" fill="#c9e5d3"/>
<rect x="849.9" y="395.7" width="15.4" height="11.3" fill="#c9e5d3"/>
<rect x="868.4" y="395.7" width="15.4" height="11.3" fill="#c9e5d3"/>
<rect x="905.4" y="395.7" width="15.4" height="11.3" fill="#c9e5d3"/>
<rect x="923.9" y="395.7" width="15.4" height="11.3" fill="#c9e5d3"/>
<rect x="942.4" y="395.7" width="15.4" height="11.3" fill="#c9e5d3"/>
<text x="794.6" y="405.6" class="m" xml:space="preserve">06 12 18 24 30 36 42 48 54</text>
<text transform="translate(778.3 421.4) scale(1.055 1)" class="hr">12</text>
<rect x="794.4" y="411.5" width="15.4" height="11.3" fill="#c9e5d3"/>
<rect x="831.4" y="411.5" width="15.4" height="11.3" fill="#c9e5d3"/>
<rect x="849.9" y="411.5" width="15.4" height="11.3" fill="#c9e5d3"/>
<rect x="868.4" y="411.5" width="15.4" height="11.3" fill="#c9e5d3"/>
<rect x="886.9" y="411.5" width="15.4" height="11.3" fill="#c9e5d3"/>
<rect x="923.9" y="411.5" width="15.4" height="11.3" fill="#c9e5d3"/>
<rect x="942.4" y="411.5" width="15.4" height="11.3" fill="#c9e5d3"/>
<rect x="960.9" y="411.5" width="15.4" height="11.3" fill="#c9e5d3"/>
<text x="794.6" y="421.4" class="m" xml:space="preserve">00 06 12 18 24 30 36 42 48 54</text>
<text transform="translate(778.3 437.1) scale(1.055 1)" class="hr">13</text>
<rect x="794.4" y="427.2" width="15.4" height="11.3" fill="#c9e5d3"/>
<rect x="831.4" y="427.2" width="15.4" height="11.3" fill="#c9e5d3"/>
<rect x="849.9" y="427.2" width="15.4" height="11.3" fill="#c9e5d3"/>
<rect x="868.4" y="427.2" width="15.4" height="11.3" fill="#c9e5d3"/>
<rect x="886.9" y="427.2" width="15.4" height="11.3" fill="#c9e5d3"/>
<rect x="923.9" y="427.2" width="15.4" height="11.3" fill="#c9e5d3"/>
<rect x="942.4" y="427.2" width="15.4" height="11.3" fill="#c9e5d3"/>
<rect x="960.9" y="427.2" width="15.4" height="11.3" fill="#c9e5d3"/>
<text x="794.6" y="437.1" class="m" xml:space="preserve">00 06 12 18 24 30 36 42 48 54</text>
<text transform="translate(778.3 452.9) scale(1.055 1)" class="hr">14</text>
<rect x="794.4" y="443.0" width="15.4" height="11.3" fill="#c9e5d3"/>
<rect x="831.4" y="443.0" width="15.4" height="11.3" fill="#c9e5d3"/>
<rect x="849.9" y="443.0" width="15.4" height="11.3" fill="#c9e5d3"/>
<rect x="868.4" y="443.0" width="15.4" height="11.3" fill="#c9e5d3"/>
<rect x="886.9" y="443.0" width="15.4" height="11.3" fill="#c9e5d3"/>
<rect x="923.9" y="443.0" width="15.4" height="11.3" fill="#c9e5d3"/>
<rect x="942.4" y="443.0" width="15.4" height="11.3" fill="#c9e5d3"/>
<rect x="960.9" y="443.0" width="15.4" height="11.3" fill="#c9e5d3"/>
<text x="794.6" y="452.9" class="m" xml:space="preserve">00 06 12 18 24 30 36 42 48 54</text>
<text transform="translate(778.3 468.6) scale(1.055 1)" class="hr">15</text>
<rect x="794.4" y="458.7" width="15.4" height="11.3" fill="#c9e5d3"/>
<rect x="831.4" y="458.7" width="15.4" height="11.3" fill="#c9e5d3"/>
<rect x="849.9" y="458.7" width="15.4" height="11.3" fill="#c9e5d3"/>
<rect x="868.4" y="458.7" width="15.4" height="11.3" fill="#c9e5d3"/>
<rect x="886.9" y="458.7" width="15.4" height="11.3" fill="#c9e5d3"/>
<rect x="923.9" y="458.7" width="15.4" height="11.3" fill="#c9e5d3"/>
<rect x="942.4" y="458.7" width="15.4" height="11.3" fill="#c9e5d3"/>
<rect x="960.9" y="458.7" width="15.4" height="11.3" fill="#c9e5d3"/>
<text x="794.6" y="468.6" class="m" xml:space="preserve">00 06 12 18 24 30 36 42 48 54</text>
<text transform="translate(778.3 484.3) scale(1.055 1)" class="hr">16</text>
<rect x="794.4" y="474.4" width="15.4" height="11.3" fill="#c9e5d3"/>
<rect x="831.4" y="474.4" width="15.4" height="11.3" fill="#c9e5d3"/>
<rect x="849.9" y="474.4" width="15.4" height="11.3" fill="#c9e5d3"/>
<rect x="868.4" y="474.4" width="15.4" height="11.3" fill="#c9e5d3"/>
<rect x="886.9" y="474.4" width="15.4" height="11.3" fill="#c9e5d3"/>
<rect x="923.9" y="474.4" width="15.4" height="11.3" fill="#c9e5d3"/>
<rect x="942.4" y="474.4" width="15.4" height="11.3" fill="#c9e5d3"/>
<rect x="960.9" y="474.4" width="15.4" height="11.3" fill="#c9e5d3"/>
<text x="794.6" y="484.3" class="m" xml:space="preserve">00 06 12 18 24 30 36 42 48 54</text>
<text transform="translate(778.3 500.1) scale(1.055 1)" class="hr">17</text>
<rect x="794.4" y="490.2" width="15.4" height="11.3" fill="#c9e5d3"/>
<rect x="831.4" y="490.2" width="15.4" height="11.3" fill="#c9e5d3"/>
<rect x="849.9" y="490.2" width="15.4" height="11.3" fill="#c9e5d3"/>
<rect x="868.4" y="490.2" width="15.4" height="11.3" fill="#c9e5d3"/>
<rect x="886.9" y="490.2" width="15.4" height="11.3" fill="#c9e5d3"/>
<rect x="923.9" y="490.2" width="15.4" height="11.3" fill="#c9e5d3"/>
<rect x="942.4" y="490.2" width="15.4" height="11.3" fill="#c9e5d3"/>
<rect x="960.9" y="490.2" width="15.4" height="11.3" fill="#c9e5d3"/>
<text x="794.6" y="500.1" class="m" xml:space="preserve">00 06 12 18 24 30 36 42 48 54</text>
<text transform="translate(778.3 515.8) scale(1.055 1)" class="hr">18</text>
<rect x="794.4" y="505.9" width="15.4" height="11.3" fill="#c9e5d3"/>
<rect x="812.9" y="505.9" width="15.4" height="11.3" fill="#c9e5d3"/>
<rect x="831.4" y="505.9" width="15.4" height="11.3" fill="#c9e5d3"/>
<rect x="849.9" y="505.9" width="15.4" height="11.3" fill="#c9e5d3"/>
<rect x="868.4" y="505.9" width="15.4" height="11.3" fill="#c9e5d3"/>
<rect x="886.9" y="505.9" width="15.4" height="11.3" fill="#c9e5d3"/>
<rect x="905.4" y="505.9" width="15.4" height="11.3" fill="#c9e5d3"/>
<rect x="923.9" y="505.9" width="15.4" height="11.3" fill="#c9e5d3"/>
<rect x="942.4" y="505.9" width="15.4" height="11.3" fill="#c9e5d3"/>
<text x="794.6" y="515.8" class="m" xml:space="preserve">00 06 13 21 28 36 43 51 58</text>
<text transform="translate(778.3 531.6) scale(1.055 1)" class="hr">19</text>
<rect x="794.4" y="521.7" width="15.4" height="11.3" fill="#c9e5d3"/>
<rect x="812.9" y="521.7" width="15.4" height="11.3" fill="#c9e5d3"/>
<rect x="831.4" y="521.7" width="15.4" height="11.3" fill="#c9e5d3"/>
<rect x="849.9" y="521.7" width="15.4" height="11.3" fill="#c9e5d3"/>
<rect x="868.4" y="521.7" width="15.4" height="11.3" fill="#b0c5e5"/>
<rect x="886.9" y="521.7" width="15.4" height="11.3" fill="#c9e5d3"/>
<text x="794.6" y="531.6" class="m" xml:space="preserve">06 16 26 36 46 56</text>
<text transform="translate(778.3 547.3) scale(1.055 1)" class="hr">20</text>
<rect x="794.4" y="537.4" width="15.4" height="11.3" fill="#b0c5e5"/>
<rect x="812.9" y="537.4" width="15.4" height="11.3" fill="#c9e5d3"/>
<rect x="831.4" y="537.4" width="15.4" height="11.3" fill="#b0c5e5"/>
<rect x="849.9" y="537.4" width="15.4" height="11.3" fill="#c9e5d3"/>
<rect x="868.4" y="537.4" width="15.4" height="11.3" fill="#f4c5cb"/>
<rect x="886.9" y="537.4" width="15.4" height="11.3" fill="#f4c5cb"/>
<text x="794.6" y="547.3" class="m" xml:space="preserve">06 16 26 36 46 56</text>
<text transform="translate(778.3 563.0) scale(1.055 1)" class="hr">21</text>
<rect x="794.4" y="553.1" width="15.4" height="11.3" fill="#c9e5d3"/>
<rect x="812.9" y="553.1" width="15.4" height="11.3" fill="#f4c5cb"/>
<rect x="831.4" y="553.1" width="15.4" height="11.3" fill="#f4c5cb"/>
<rect x="849.9" y="553.1" width="15.4" height="11.3" fill="#c9e5d3"/>
<rect x="868.4" y="553.1" width="15.4" height="11.3" fill="#f4c5cb"/>
<rect x="886.9" y="553.1" width="15.4" height="11.3" fill="#f4c5cb"/>
<text x="794.6" y="563.0" class="m" xml:space="preserve">06 16 26 36 46 56</text>
<text transform="translate(778.3 578.8) scale(1.055 1)" class="hr">22</text>
<rect x="794.4" y="568.9" width="15.4" height="11.3" fill="#b0c5e5"/>
<rect x="812.9" y="568.9" width="15.4" height="11.3" fill="#f4c5cb"/>
<rect x="831.4" y="568.9" width="15.4" height="11.3" fill="#b0c5e5"/>
<rect x="849.9" y="568.9" width="15.4" height="11.3" fill="#f4c5cb"/>
<text x="794.6" y="578.8" class="m" xml:space="preserve">06 21 36 51</text>
<text transform="translate(778.3 594.5) scale(1.055 1)" class="hr">23</text>
<rect x="794.4" y="584.6" width="15.4" height="11.3" fill="#f4c5cb"/>
<rect x="812.9" y="584.6" width="15.4" height="11.3" fill="#f4c5cb"/>
<rect x="831.4" y="584.6" width="15.4" height="11.3" fill="#f4c5cb"/>
<rect x="848.8" y="583.7" width="16.4" height="13.3" fill="#fff" stroke="#1c1c1c" stroke-width="1.25"/>
<text x="794.6" y="594.5" class="m" xml:space="preserve">06 21 36 51</text>
<text transform="translate(778.3 610.3) scale(1.055 1)" class="hr">0</text>
<rect x="793.3" y="599.5" width="16.4" height="13.3" fill="#fff" stroke="#1c1c1c" stroke-width="1.25"/>
<text x="794.6" y="610.3" class="m" xml:space="preserve">06</text>
<rect x="17.7" y="620.3" width="11" height="10.4" fill="#fff" stroke="#333" stroke-width="1"/>
<text transform="translate(32.0 628.9) scale(0.820 1)" class="lg">bis Himmelstraße</text>
<rect x="131.8" y="619.8" width="12.3" height="11.3" fill="#f4c5cb"/>
<text transform="translate(146.6 628.9) scale(0.820 1)" class="lg">bis Wagenwiese</text>
<rect x="241.5" y="619.8" width="12.3" height="11.3" fill="#b0c5e5"/>
<text transform="translate(256.3 628.9) scale(0.820 1)" class="lg">bis Cobenzl Parkplatz</text>
<rect x="375.2" y="619.8" width="12.3" height="11.3" fill="#c9e5d3"/>
<text transform="translate(390.2 628.9) scale(0.820 1)" class="lg">bis Kahlenberg</text>
<circle cx="404.1" cy="654.7" r="16.4" fill="#ea2029"/>
<path d="M402.85 637.50 C402.65 650.90 400.30 653.25 386.90 653.45 L386.90 655.95 C400.30 656.15 402.65 658.50 402.85 671.90 L405.35 671.90 C405.55 658.50 407.90 656.15 421.30 655.95 L421.30 653.45 C407.90 653.25 405.55 650.90 405.35 637.50 Z" fill="#fff"/>
<text transform="translate(426.3 665.2) scale(1.13 1)" style="font-family:'DejaVu Sans',sans-serif;font-weight:200;font-size:27px;fill:#222;stroke:#222;stroke-width:0.4px" textLength="70.5" lengthAdjust="spacing">Wien</text>
<text x="507.6" y="665.2" class="b" style="font-size:27px;fill:#222" textLength="79.5" lengthAdjust="spacingAndGlyphs">Mobil</text>
<text x="388.7" y="683.6" class="b" style="font-size:8.4px;fill:#1c1c1c" textLength="236" lengthAdjust="spacingAndGlyphs">Kaufen Sie Ihre Tickets bequem mit der WienMobil-App.</text>
<text x="388.7" y="693.6" class="b" style="font-size:8.4px;fill:#1c1c1c" textLength="195.5" lengthAdjust="spacingAndGlyphs">Buy your tickets easily via our WienMobil app.</text>
<path d="M596.90 636.90h9.08v1.31h-9.08zM607.27 636.90h6.48v1.31h-6.48zM615.05 636.90h3.89v1.31h-3.89zM620.24 636.90h2.59v1.31h-2.59zM625.42 636.90h9.08v1.31h-9.08zM596.90 638.16h1.30v1.31h-1.30zM604.68 638.16h1.30v1.31h-1.30zM607.27 638.16h6.48v1.31h-6.48zM616.35 638.16h3.89v1.31h-3.89zM622.83 638.16h1.30v1.31h-1.30zM625.42 638.16h1.30v1.31h-1.30zM633.20 638.16h1.30v1.31h-1.30zM596.90 639.42h1.30v1.31h-1.30zM599.49 639.42h3.89v1.31h-3.89zM604.68 639.42h1.30v1.31h-1.30zM609.87 639.42h3.89v1.31h-3.89zM615.05 639.42h1.30v1.31h-1.30zM618.94 639.42h5.19v1.31h-5.19zM625.42 639.42h1.30v1.31h-1.30zM628.02 639.42h3.89v1.31h-3.89zM633.20 639.42h1.30v1.31h-1.30zM596.90 640.67h1.30v1.31h-1.30zM599.49 640.67h3.89v1.31h-3.89zM604.68 640.67h1.30v1.31h-1.30zM607.27 640.67h2.59v1.31h-2.59zM612.46 640.67h11.67v1.31h-11.67zM625.42 640.67h1.30v1.31h-1.30zM628.02 640.67h3.89v1.31h-3.89zM633.20 640.67h1.30v1.31h-1.30zM596.90 641.93h1.30v1.31h-1.30zM599.49 641.93h3.89v1.31h-3.89zM604.68 641.93h1.30v1.31h-1.30zM607.27 641.93h14.26v1.31h-14.26zM622.83 641.93h1.30v1.31h-1.30zM625.42 641.93h1.30v1.31h-1.30zM628.02 641.93h3.89v1.31h-3.89zM633.20 641.93h1.30v1.31h-1.30zM596.90 643.19h1.30v1.31h-1.30zM604.68 643.19h1.30v1.31h-1.30zM608.57 643.19h6.48v1.31h-6.48zM618.94 643.19h3.89v1.31h-3.89zM625.42 643.19h1.30v1.31h-1.30zM633.20 643.19h1.30v1.31h-1.30zM596.90 644.45h9.08v1.31h-9.08zM607.27 644.45h1.30v1.31h-1.30zM611.16 644.45h1.30v1.31h-1.30zM616.35 644.45h7.78v1.31h-7.78zM625.42 644.45h9.08v1.31h-9.08zM607.27 645.70h2.59v1.31h-2.59zM612.46 645.70h3.89v1.31h-3.89zM618.94 645.70h1.30v1.31h-1.30zM622.83 645.70h1.30v1.31h-1.30zM596.90 646.96h1.30v1.31h-1.30zM600.79 646.96h10.37v1.31h-10.37zM612.46 646.96h3.89v1.31h-3.89zM617.64 646.96h1.30v1.31h-1.30zM620.24 646.96h9.08v1.31h-9.08zM630.61 646.96h2.59v1.31h-2.59zM596.90 648.22h5.19v1.31h-5.19zM603.38 648.22h5.19v1.31h-5.19zM609.87 648.22h2.59v1.31h-2.59zM615.05 648.22h5.19v1.31h-5.19zM621.53 648.22h3.89v1.31h-3.89zM630.61 648.22h2.59v1.31h-2.59zM598.20 649.48h9.08v1.31h-9.08zM609.87 649.48h1.30v1.31h-1.30zM612.46 649.48h2.59v1.31h-2.59zM617.64 649.48h1.30v1.31h-1.30zM620.24 649.48h2.59v1.31h-2.59zM625.42 649.48h7.78v1.31h-7.78zM596.90 650.73h10.37v1.31h-10.37zM611.16 650.73h3.89v1.31h-3.89zM616.35 650.73h3.89v1.31h-3.89zM622.83 650.73h2.59v1.31h-2.59zM626.72 650.73h1.30v1.31h-1.30zM629.31 650.73h2.59v1.31h-2.59zM633.20 650.73h1.30v1.31h-1.30zM596.90 651.99h1.30v1.31h-1.30zM599.49 651.99h1.30v1.31h-1.30zM602.09 651.99h1.30v1.31h-1.30zM604.68 651.99h1.30v1.31h-1.30zM607.27 651.99h3.89v1.31h-3.89zM612.46 651.99h12.97v1.31h-12.97zM626.72 651.99h7.78v1.31h-7.78zM596.90 653.25h1.30v1.31h-1.30zM599.49 653.25h3.89v1.31h-3.89zM604.68 653.25h1.30v1.31h-1.30zM607.27 653.25h2.59v1.31h-2.59zM611.16 653.25h2.59v1.31h-2.59zM616.35 653.25h1.30v1.31h-1.30zM620.24 653.25h7.78v1.31h-7.78zM629.31 653.25h3.89v1.31h-3.89zM598.20 654.51h10.37v1.31h-10.37zM611.16 654.51h2.59v1.31h-2.59zM615.05 654.51h19.45v1.31h-19.45zM596.90 655.76h3.89v1.31h-3.89zM602.09 655.76h1.30v1.31h-1.30zM605.98 655.76h2.59v1.31h-2.59zM609.87 655.76h1.30v1.31h-1.30zM612.46 655.76h2.59v1.31h-2.59zM617.64 655.76h1.30v1.31h-1.30zM621.53 655.76h3.89v1.31h-3.89zM629.31 655.76h1.30v1.31h-1.30zM596.90 657.02h6.48v1.31h-6.48zM604.68 657.02h3.89v1.31h-3.89zM609.87 657.02h2.59v1.31h-2.59zM615.05 657.02h5.19v1.31h-5.19zM621.53 657.02h3.89v1.31h-3.89zM626.72 657.02h1.30v1.31h-1.30zM630.61 657.02h3.89v1.31h-3.89zM599.49 658.28h6.48v1.31h-6.48zM607.27 658.28h7.78v1.31h-7.78zM616.35 658.28h7.78v1.31h-7.78zM625.42 658.28h1.30v1.31h-1.30zM629.31 658.28h2.59v1.31h-2.59zM596.90 659.54h3.89v1.31h-3.89zM602.09 659.54h5.19v1.31h-5.19zM608.57 659.54h1.30v1.31h-1.30zM611.16 659.54h1.30v1.31h-1.30zM615.05 659.54h1.30v1.31h-1.30zM617.64 659.54h11.67v1.31h-11.67zM630.61 659.54h1.30v1.31h-1.30zM596.90 660.80h1.30v1.31h-1.30zM602.09 660.80h3.89v1.31h-3.89zM607.27 660.80h7.78v1.31h-7.78zM616.35 660.80h1.30v1.31h-1.30zM618.94 660.80h6.48v1.31h-6.48zM629.31 660.80h1.30v1.31h-1.30zM633.20 660.80h1.30v1.31h-1.30zM598.20 662.05h1.30v1.31h-1.30zM600.79 662.05h1.30v1.31h-1.30zM603.38 662.05h3.89v1.31h-3.89zM608.57 662.05h5.19v1.31h-5.19zM616.35 662.05h10.37v1.31h-10.37zM628.02 662.05h2.59v1.31h-2.59zM633.20 662.05h1.30v1.31h-1.30zM609.87 663.31h9.08v1.31h-9.08zM620.24 663.31h3.89v1.31h-3.89zM625.42 663.31h6.48v1.31h-6.48zM596.90 664.57h9.08v1.31h-9.08zM607.27 664.57h1.30v1.31h-1.30zM613.76 664.57h5.19v1.31h-5.19zM622.83 664.57h1.30v1.31h-1.30zM625.42 664.57h3.89v1.31h-3.89zM630.61 664.57h1.30v1.31h-1.30zM633.20 664.57h1.30v1.31h-1.30zM596.90 665.83h1.30v1.31h-1.30zM604.68 665.83h1.30v1.31h-1.30zM607.27 665.83h9.08v1.31h-9.08zM617.64 665.83h1.30v1.31h-1.30zM620.24 665.83h3.89v1.31h-3.89zM626.72 665.83h7.78v1.31h-7.78zM596.90 667.08h1.30v1.31h-1.30zM599.49 667.08h3.89v1.31h-3.89zM604.68 667.08h1.30v1.31h-1.30zM609.87 667.08h2.59v1.31h-2.59zM613.76 667.08h1.30v1.31h-1.30zM616.35 667.08h2.59v1.31h-2.59zM620.24 667.08h1.30v1.31h-1.30zM622.83 667.08h6.48v1.31h-6.48zM630.61 667.08h3.89v1.31h-3.89zM596.90 668.34h1.30v1.31h-1.30zM599.49 668.34h3.89v1.31h-3.89zM604.68 668.34h1.30v1.31h-1.30zM609.87 668.34h2.59v1.31h-2.59zM615.05 668.34h11.67v1.31h-11.67zM628.02 668.34h1.30v1.31h-1.30zM630.61 668.34h2.59v1.31h-2.59zM596.90 669.60h1.30v1.31h-1.30zM599.49 669.60h3.89v1.31h-3.89zM604.68 669.60h1.30v1.31h-1.30zM608.57 669.60h2.59v1.31h-2.59zM613.76 669.60h3.89v1.31h-3.89zM618.94 669.60h1.30v1.31h-1.30zM622.83 669.60h2.59v1.31h-2.59zM626.72 669.60h2.59v1.31h-2.59zM630.61 669.60h3.89v1.31h-3.89zM596.90 670.86h1.30v1.31h-1.30zM604.68 670.86h1.30v1.31h-1.30zM608.57 670.86h5.19v1.31h-5.19zM615.05 670.86h1.30v1.31h-1.30zM621.53 670.86h5.19v1.31h-5.19zM628.02 670.86h2.59v1.31h-2.59zM631.91 670.86h2.59v1.31h-2.59zM596.90 672.11h9.08v1.31h-9.08zM607.27 672.11h2.59v1.31h-2.59zM611.16 672.11h6.48v1.31h-6.48zM620.24 672.11h2.59v1.31h-2.59zM624.13 672.11h3.89v1.31h-3.89zM629.31 672.11h5.19v1.31h-5.19z" fill="#1a1a1a"/>
<text x="17.2" y="704.7" class="i" style="font-size:7.3px;fill:#222" xml:space="preserve" textLength="156" lengthAdjust="spacing">Datum: 10.03.2022 10:15:02;  Linie: 2338A_ (H)</text>
<text x="1007" y="694.4" style="font-size:9.8px;fill:#222;text-anchor:end"><tspan class="b">Auskunft</tspan> Servicetelefon 01/7909 100</text>
<text x="1007" y="704.9" class="i" style="font-size:7.35px;fill:#222;text-anchor:end">Änderungen vorbehalten</text>
</svg>
</body></html>
